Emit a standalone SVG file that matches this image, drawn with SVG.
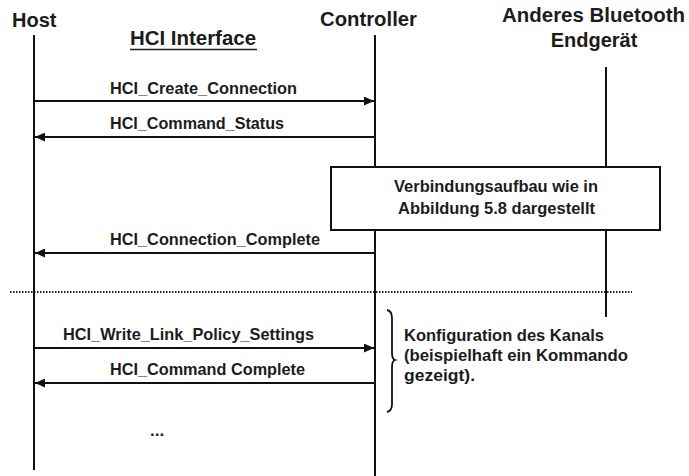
<svg xmlns="http://www.w3.org/2000/svg" width="689" height="476" viewBox="0 0 689 476">
  <style>
    .hdr { font-family: "Liberation Sans", Arial, sans-serif; font-weight: bold; font-size: 20px; fill: #1c1c1c; }
    .lbl { font-family: "Liberation Sans", Arial, sans-serif; font-weight: bold; font-size: 17px; fill: #1c1c1c; }
    .life { stroke: #111; stroke-width: 2; fill: none; }
    .msg { stroke: #111; stroke-width: 2; fill: none; marker-end: url(#head); }
  </style>
  <defs>
    <marker id="head" markerUnits="userSpaceOnUse" markerWidth="11" markerHeight="9" refX="10" refY="4.5" orient="auto">
      <path d="M0,0 L10,4.5 L0,9 z" fill="#111"/>
    </marker>
  </defs>
  <rect width="689" height="476" fill="#fff"/>

  <!-- lifelines -->
  <g id="host">
    <text class="hdr" x="12" y="27">Host</text>
    <line class="life" x1="34" y1="35" x2="34" y2="470"/>
  </g>
  <g id="controller">
    <text class="hdr" x="320" y="26" textLength="97" lengthAdjust="spacingAndGlyphs">Controller</text>
    <line class="life" x1="375" y1="35" x2="375" y2="476"/>
  </g>
  <g id="remote-device">
    <text class="hdr" x="502" y="22" textLength="183" lengthAdjust="spacingAndGlyphs">Anderes Bluetooth</text>
    <text class="hdr" x="594" y="47" text-anchor="middle">Endgerät</text>
    <line class="life" x1="606" y1="67" x2="606" y2="317"/>
  </g>
  <g id="hci-interface">
    <text class="hdr" x="130" y="45" textLength="126" lengthAdjust="spacingAndGlyphs">HCI Interface</text>
    <line x1="130" y1="49.5" x2="257" y2="49.5" stroke="#1c1c1c" stroke-width="1.6"/>
  </g>

  <!-- separator between setup and configuration -->
  <g id="separator">
    <line x1="10" y1="292" x2="632" y2="292" stroke="#222" stroke-width="2" stroke-dasharray="1.5 1.5"/>
  </g>

  <!-- connection setup box -->
  <g id="setup-box">
    <rect x="331" y="167" width="329" height="63" fill="#fff" stroke="#111" stroke-width="2"/>
    <text class="lbl" x="394" y="192" textLength="204" lengthAdjust="spacingAndGlyphs">Verbindungsaufbau wie in</text>
    <text class="lbl" x="398" y="214" textLength="197" lengthAdjust="spacingAndGlyphs">Abbildung 5.8 dargestellt</text>
  </g>

  <!-- messages -->
  <g id="connectors">
    <path class="msg" d="M34,101 H374"/>
    <path class="msg" d="M374,137 H35"/>
    <path class="msg" d="M374,253 H35"/>
    <path class="msg" d="M34,348 H374"/>
    <path class="msg" d="M374,383 H35"/>
  </g>
  <g id="labels">
    <text class="lbl" x="110" y="94" textLength="187" lengthAdjust="spacingAndGlyphs">HCI_Create_Connection</text>
    <text class="lbl" x="110" y="129" textLength="174" lengthAdjust="spacingAndGlyphs">HCI_Command_Status</text>
    <text class="lbl" x="110" y="245" textLength="210" lengthAdjust="spacingAndGlyphs">HCI_Connection_Complete</text>
    <text class="lbl" x="63" y="340" textLength="251" lengthAdjust="spacingAndGlyphs">HCI_Write_Link_Policy_Settings</text>
    <text class="lbl" x="110" y="375" textLength="195" lengthAdjust="spacingAndGlyphs">HCI_Command Complete</text>
    <text class="lbl" x="150" y="436">...</text>
  </g>

  <!-- configuration note -->
  <g id="config-note">
    <path d="M387,310 Q392,311 392,318 V353 Q392,359 395,360 Q392,361 392,367 V404 Q392,411 387,412" fill="none" stroke="#111" stroke-width="1.8"/>
    <text class="lbl" x="404" y="341" textLength="200" lengthAdjust="spacingAndGlyphs">Konfiguration des Kanals</text>
    <text class="lbl" x="404" y="361" textLength="224" lengthAdjust="spacingAndGlyphs">(beispielhaft ein Kommando</text>
    <text class="lbl" x="404" y="381" textLength="71" lengthAdjust="spacingAndGlyphs">gezeigt).</text>
  </g>
</svg>
